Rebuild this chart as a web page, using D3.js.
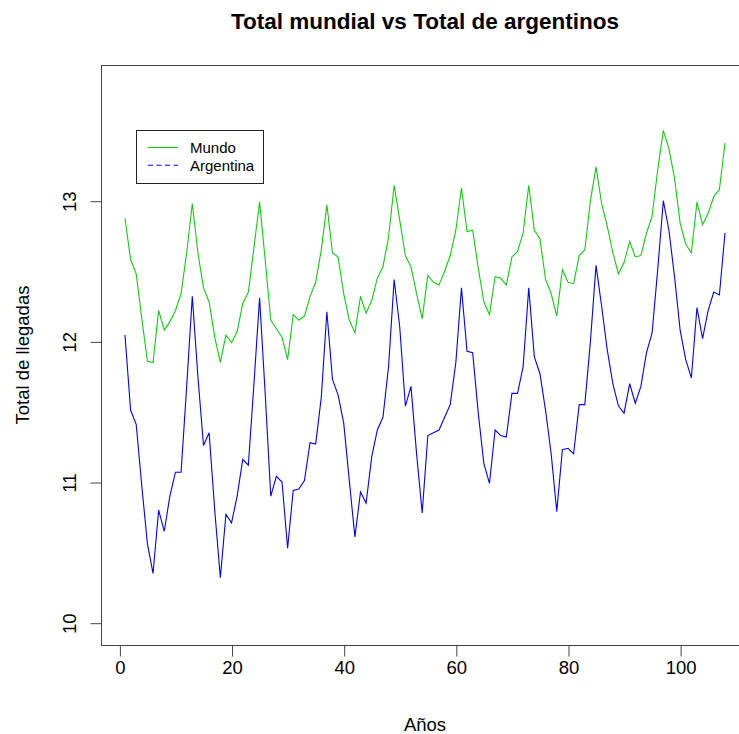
<!DOCTYPE html>
<html>
<head>
<meta charset="utf-8">
<script src="https://cdn.jsdelivr.net/npm/d3@7"></script>
<style>
  html, body { margin: 0; padding: 0; background: #fff; }
  svg { display: block; font-family: "Liberation Sans", Arial, sans-serif; }
</style>
</head>
<body>
<svg id="chart" width="739" height="734"></svg>
<script>
// ---- Data ----
const years = d3.range(1, 109);
const mundo = [
  12.875, 12.58, 12.48, 12.16, 11.86, 11.85, 12.22, 12.08, 12.14, 12.22,
  12.34, 12.63, 12.98, 12.63, 12.38, 12.28, 12.03, 11.85, 12.045, 11.99,
  12.07, 12.27, 12.35, 12.67, 12.99, 12.58, 12.15, 12.09, 12.03, 11.87,
  12.19, 12.15, 12.18, 12.32, 12.42, 12.65, 12.97, 12.63, 12.60, 12.34,
  12.15, 12.06, 12.32, 12.20, 12.29, 12.45, 12.53, 12.74, 13.11, 12.86,
  12.61, 12.53, 12.34, 12.16, 12.47, 12.42, 12.40, 12.50, 12.61, 12.79,
  13.09, 12.78, 12.79, 12.52, 12.28, 12.19, 12.46, 12.45, 12.40, 12.60,
  12.64, 12.77, 13.11, 12.79, 12.73, 12.44, 12.34, 12.18, 12.51, 12.42,
  12.41, 12.61, 12.65, 13.00, 13.24, 12.98, 12.82, 12.63, 12.48, 12.56,
  12.71, 12.60, 12.61, 12.77, 12.89, 13.22, 13.50, 13.37, 13.16, 12.84,
  12.69, 12.63, 12.99, 12.83, 12.91, 13.03, 13.08, 13.41
];
const argentina = [
  12.045, 11.51, 11.41, 10.97, 10.56, 10.35, 10.80, 10.65, 10.90, 11.07,
  11.07, 11.68, 12.32, 11.75, 11.26, 11.35, 10.80, 10.32, 10.77, 10.71,
  10.90, 11.16, 11.12, 11.70, 12.31, 11.63, 10.90, 11.04, 11.00, 10.53,
  10.94, 10.95, 11.01, 11.28, 11.27, 11.60, 12.21, 11.73, 11.62, 11.42,
  11.01, 10.61, 10.93, 10.85, 11.18, 11.37, 11.46, 11.82, 12.44, 12.10,
  11.54, 11.68, 11.20, 10.78, 11.33, 11.35, 11.37, 11.46, 11.55, 11.85,
  12.38, 11.93, 11.92, 11.49, 11.13, 10.99, 11.37, 11.33, 11.32, 11.63,
  11.63, 11.82, 12.38, 11.89, 11.77, 11.51, 11.20, 10.79, 11.23, 11.24,
  11.20, 11.55, 11.55, 12.00, 12.54, 12.25, 11.94, 11.70, 11.54, 11.49,
  11.70, 11.56, 11.68, 11.92, 12.06, 12.51, 13.00, 12.79, 12.46, 12.08,
  11.87, 11.74, 12.24, 12.02, 12.22, 12.35, 12.33, 12.77
];
const xTicks = [0, 20, 40, 60, 80, 100];
const yTicks = [10, 11, 12, 13];
const seriesNames = ["Mundo", "Argentina"];
const seriesColors = ["#11cc11", "#0000ff"];

const title = "Total mundial vs Total de argentinos";
const xLabel = "Años";
const yLabel = "Total de llegadas";

// ---- Layout ----
const svg = d3.select("#chart");
const plot = { left: 101, right: 749, top: 65, bottom: 645 };

const x = d3.scaleLinear().domain([-3.28, 112.28]).range([plot.left, plot.right]);
const y = d3.scaleLinear().domain([10, 13]).range([622.7, 200.7]);

const axisColor = "#444";
const tickFont = 18.5;

// box
svg.append("rect")
  .attr("x", plot.left + 0.5).attr("y", plot.top + 0.5)
  .attr("width", plot.right - plot.left).attr("height", plot.bottom - plot.top)
  .attr("fill", "none").attr("stroke", axisColor).attr("stroke-width", 1);

// x axis
const xAxis = d3.axisBottom(x).tickValues(xTicks).tickSize(11).tickPadding(4)
  .tickFormat(d3.format("d"));
const gx = svg.append("g").attr("transform", `translate(0.5,${plot.bottom + 0.5})`).call(xAxis);
gx.select(".domain").attr("d", `M${x(0)},0H${x(100)}`).attr("stroke", axisColor);
gx.selectAll(".tick line").attr("stroke", axisColor);
gx.selectAll(".tick text").attr("font-size", tickFont).attr("fill", "#000")
  .attr("font-family", "Liberation Sans, Arial, sans-serif");

// y axis
const yAxis = d3.axisLeft(y).tickValues(yTicks).tickSize(11).tickFormat(d3.format("d"));
const gy = svg.append("g").attr("transform", `translate(${plot.left + 0.5},0.5)`).call(yAxis);
gy.select(".domain").attr("d", `M0,${y(10)}V${y(13)}`).attr("stroke", axisColor);
gy.selectAll(".tick line").attr("stroke", axisColor);
gy.selectAll(".tick text").remove();
gy.selectAll(".tick").append("text")
  .attr("transform", "translate(-26,0) rotate(-90)")
  .attr("text-anchor", "middle")
  .attr("font-size", tickFont)
  .attr("fill", "#000")
  .attr("font-family", "Liberation Sans, Arial, sans-serif")
  .text(d => d3.format("d")(d));

// lines
const line = d3.line().x((d, i) => x(years[i])).y(d => y(d));
[mundo, argentina].forEach((s, k) => {
  svg.append("path").datum(s)
    .attr("d", line)
    .attr("fill", "none")
    .attr("stroke", seriesColors[k])
    .attr("stroke-width", 1.1);
});

// title and labels
svg.append("text").attr("x", (plot.left + plot.right) / 2).attr("y", 29)
  .attr("text-anchor", "middle").attr("font-weight", "bold").attr("font-size", 22.5)
  .text(title);
svg.append("text").attr("x", (plot.left + plot.right) / 2).attr("y", 731)
  .attr("text-anchor", "middle").attr("font-size", 18.5)
  .text(xLabel);
svg.append("text")
  .attr("transform", `translate(28.5,${(plot.top + plot.bottom) / 2}) rotate(-90)`)
  .attr("text-anchor", "middle").attr("font-size", 18.5)
  .text(yLabel);

// legend
const lg = svg.append("g");
lg.append("rect").attr("x", 136.5).attr("y", 130.5).attr("width", 127).attr("height", 53)
  .attr("fill", "#fff").attr("stroke", "#222").attr("stroke-width", 1);
seriesNames.forEach((name, k) => {
  const yy = 147.5 + k * 17.8;
  lg.append("line").attr("x1", 148).attr("x2", 178).attr("y1", yy).attr("y2", yy)
    .attr("stroke", seriesColors[k]).attr("stroke-width", 1.1)
    .attr("stroke-dasharray", k === 1 ? "5,3.5" : null);
  lg.append("text").attr("x", 190).attr("y", yy + 5.3).attr("font-size", 15)
    .text(name);
});
</script>
</body>
</html>
